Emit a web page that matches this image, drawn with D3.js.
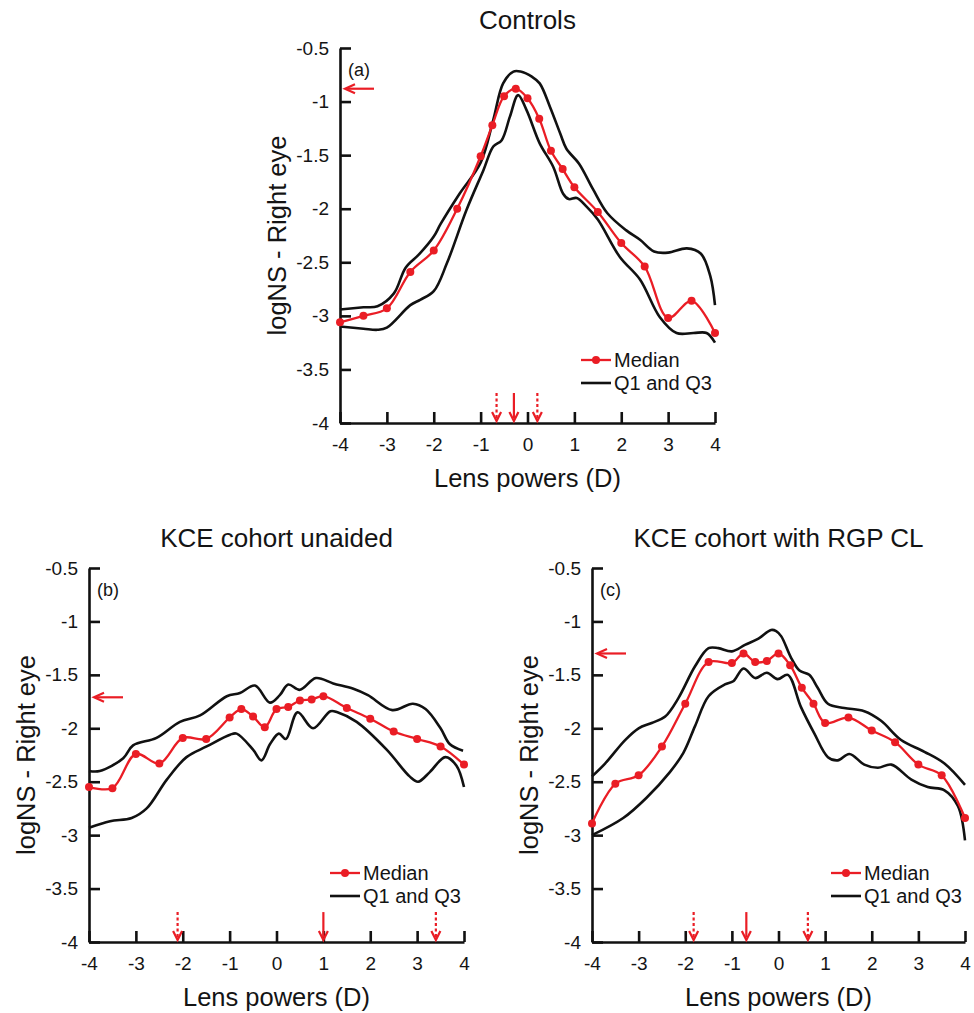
<!DOCTYPE html>
<html><head><meta charset="utf-8">
<script src="https://cdn.jsdelivr.net/npm/d3@7"></script>
<style>
body{margin:0;background:#fff}
svg{display:block}
text{font-family:"Liberation Sans",Arial,sans-serif;fill:#141414}
</style>
</head><body>
<svg id="chart" width="974" height="1013"></svg>
<script>
// ---------- data ----------
const lensPowers = [-4,-3.5,-3,-2.5,-2,-1.5,-1,-0.75,-0.5,-0.25,0,0.25,0.5,0.75,1,1.5,2,2.5,3,3.5,4];
const xTicks = [-4,-3,-2,-1,0,1,2,3,4];
const yTicks = [-4,-3.5,-3,-2.5,-2,-1.5,-1,-0.5];

// (a) Controls
const controlsMedian = [-3.06,-3.0,-2.93,-2.59,-2.39,-2.0,-1.51,-1.22,-0.95,-0.88,-0.97,-1.16,-1.46,-1.63,-1.80,-2.03,-2.32,-2.54,-3.02,-2.86,-3.16];
const controlsQ3x = [-4,-3.5,-3.2,-2.85,-2.6,-2.3,-2.0,-1.85,-1.45,-1.0,-0.73,-0.52,-0.3,-0.15,0.1,0.26,0.48,0.7,0.83,1.1,1.4,1.7,2.1,2.4,2.7,3.0,3.4,3.7,3.9,4.0];
const controlsQ3  = [-2.94,-2.92,-2.91,-2.79,-2.55,-2.42,-2.26,-2.14,-1.86,-1.57,-1.17,-0.83,-0.72,-0.72,-0.77,-0.83,-1.05,-1.30,-1.44,-1.58,-1.82,-2.04,-2.20,-2.29,-2.40,-2.41,-2.37,-2.42,-2.63,-2.90];
const controlsQ1x = [-4,-3.5,-3.2,-3.0,-2.5,-2.29,-2.0,-1.72,-1.3,-0.94,-0.73,-0.55,-0.375,-0.2,-0.02,0.26,0.55,0.76,0.88,1.05,1.26,1.5,1.97,2.4,2.82,3.18,3.54,3.82,4.0];
const controlsQ1  = [-3.10,-3.12,-3.13,-3.11,-2.90,-2.85,-2.77,-2.51,-2.01,-1.64,-1.42,-1.36,-1.14,-0.94,-1.08,-1.39,-1.61,-1.86,-1.91,-1.90,-1.98,-2.10,-2.45,-2.66,-3.01,-3.16,-3.16,-3.16,-3.25];
const controlsPeak = -0.88;
const controlsMarks = [-0.66,-0.29,0.21];   // dashed, solid, dashed

// (b) KCE cohort unaided
const unaidedMedian = [-2.55,-2.56,-2.24,-2.33,-2.09,-2.10,-1.90,-1.82,-1.89,-1.99,-1.82,-1.80,-1.74,-1.73,-1.70,-1.81,-1.91,-2.03,-2.10,-2.17,-2.34];
const unaidedQ3x = [-4,-3.77,-3.27,-3.06,-2.56,-2.06,-1.63,-1.06,-0.78,-0.46,-0.14,0.07,0.25,0.5,0.84,1.21,1.64,1.95,2.47,2.91,3.18,3.5,3.7,3.98];
const unaidedQ3  = [-2.40,-2.40,-2.28,-2.16,-2.09,-1.94,-1.88,-1.70,-1.67,-1.60,-1.76,-1.69,-1.59,-1.64,-1.53,-1.58,-1.63,-1.69,-1.83,-1.77,-1.82,-2.0,-2.15,-2.21];
const unaidedQ1x = [-4,-3.55,-3.09,-2.77,-2.34,-1.92,-1.49,-0.99,-0.85,-0.5,-0.32,-0.14,0.05,0.2,0.45,0.78,1.15,1.3,1.71,2.35,2.84,3.02,3.27,3.6,3.84,4.0];
const unaidedQ1  = [-2.93,-2.87,-2.84,-2.75,-2.48,-2.27,-2.17,-2.06,-2.05,-2.20,-2.30,-2.15,-2.05,-2.10,-1.85,-2.00,-1.84,-1.85,-1.94,-2.20,-2.45,-2.50,-2.41,-2.27,-2.35,-2.55];
const unaidedPeak = -1.71;
const unaidedMarks = [-2.11,1.0,3.40];

// (c) KCE cohort with RGP CL
const rgpMedian = [-2.89,-2.52,-2.44,-2.17,-1.77,-1.38,-1.39,-1.30,-1.38,-1.37,-1.30,-1.41,-1.62,-1.77,-1.95,-1.90,-2.02,-2.13,-2.34,-2.44,-2.84];
const rgpQ3x = [-4,-3.72,-3.29,-3.0,-2.72,-2.43,-2.15,-1.79,-1.50,-1.29,-1.0,-0.72,-0.43,-0.16,-0.05,0.06,0.27,0.45,0.66,0.84,1.06,1.41,1.84,2.2,2.63,3.13,3.56,4.0];
const rgpQ3  = [-2.45,-2.33,-2.11,-2.0,-1.95,-1.89,-1.72,-1.42,-1.25,-1.25,-1.28,-1.22,-1.16,-1.08,-1.09,-1.14,-1.34,-1.46,-1.50,-1.62,-1.77,-1.81,-1.84,-1.93,-2.11,-2.22,-2.33,-2.53];
const rgpQ1x = [-4,-3.33,-2.83,-2.33,-2.04,-1.79,-1.50,-1.15,-0.97,-0.75,-0.5,-0.25,-0.02,0.2,0.48,0.77,1.06,1.27,1.52,1.84,2.13,2.42,2.85,3.2,3.56,3.85,4.0];
const rgpQ1  = [-3.0,-2.84,-2.65,-2.41,-2.23,-1.98,-1.70,-1.59,-1.56,-1.44,-1.53,-1.48,-1.54,-1.50,-1.80,-2.05,-2.27,-2.30,-2.24,-2.34,-2.37,-2.34,-2.48,-2.55,-2.58,-2.73,-3.05];
const rgpPeak = -1.30;
const rgpMarks = [-1.82,-0.69,0.63];

const titles = ["Controls","KCE cohort unaided","KCE cohort with RGP CL"];
const panelTags = ["(a)","(b)","(c)"];
const xLabel = "Lens powers (D)";
const yLabel = "logNS - Right eye";
const legendLabels = ["Median","Q1 and Q3"];

// ---------- drawing ----------
const RED = "#ea1d25";
const svg = d3.select("#chart");

const panels = [
  {left:340,right:715,top:48,bottom:423,title:titles[0],tag:panelTags[0],median:controlsMedian,
   q3x:controlsQ3x,q3:controlsQ3,q1x:controlsQ1x,q1:controlsQ1,peak:controlsPeak,marks:controlsMarks,legY:360,titleY:29},
  {left:89,right:464,top:568,bottom:942,title:titles[1],tag:panelTags[1],median:unaidedMedian,
   q3x:unaidedQ3x,q3:unaidedQ3,q1x:unaidedQ1x,q1:unaidedQ1,peak:unaidedPeak,marks:unaidedMarks,legY:873,titleY:547},
  {left:592,right:965,top:568,bottom:942,title:titles[2],tag:panelTags[2],median:rgpMedian,
   q3x:rgpQ3x,q3:rgpQ3,q1x:rgpQ1x,q1:rgpQ1,peak:rgpPeak,marks:rgpMarks,legY:873,titleY:547}
];

function drawPanel(p){
  const x = d3.scaleLinear().domain([-4,4]).range([p.left,p.right]);
  const y = d3.scaleLinear().domain([-4,-0.5]).range([p.bottom,p.top]);
  const g = svg.append("g");

  // axes
  const ya = g.append("g").attr("transform",`translate(${p.left},0)`)
    .call(d3.axisLeft(y).tickValues(yTicks).tickSize(-11).tickSizeOuter(0).tickPadding(11).tickFormat(d=>String(d)));
  const xa = g.append("g").attr("transform",`translate(0,${p.bottom})`)
    .call(d3.axisBottom(x).tickValues(xTicks).tickSize(-11).tickSizeOuter(0).tickPadding(15).tickFormat(d=>String(d)));
  [ya,xa].forEach(a=>{
    a.select(".domain").attr("stroke","#111").attr("stroke-width",2.6);
    a.selectAll(".tick line").attr("stroke","#111").attr("stroke-width",2.6);
    a.selectAll(".tick text").attr("font-size",19).attr("font-family","Liberation Sans, Arial, sans-serif").attr("fill","#141414");
  });

  const line = d3.line().x(d=>x(d[0])).y(d=>y(d[1])).curve(d3.curveCatmullRom.alpha(0.5));

  // quartile lines
  [[p.q3x,p.q3],[p.q1x,p.q1]].forEach(([xs,ys])=>{
    g.append("path").attr("d",line(xs.map((v,i)=>[v,ys[i]])))
      .attr("fill","none").attr("stroke","#111").attr("stroke-width",2.6);
  });
  // median
  const med = lensPowers.map((v,i)=>[v,p.median[i]]);
  g.append("path").attr("d",line(med)).attr("fill","none").attr("stroke",RED).attr("stroke-width",2.3);
  g.selectAll("circle.m").data(med).join("circle").attr("class","m")
    .attr("cx",d=>x(d[0])).attr("cy",d=>y(d[1])).attr("r",4).attr("fill",RED);

  // left arrow at peak median level
  const ay = y(p.peak);
  g.append("line").attr("x1",p.left+34).attr("x2",p.left+7).attr("y1",ay).attr("y2",ay)
    .attr("stroke",RED).attr("stroke-width",2.2);
  g.append("path").attr("d",`M${p.left+15},${ay-4.5}L${p.left+5},${ay}L${p.left+15},${ay+4.5}`)
    .attr("fill","none").attr("stroke",RED).attr("stroke-width",2.2);

  // down arrows
  p.marks.forEach((m,i)=>{
    const ax = x(m), y0 = y(-3.72), y1 = y(-4)-2;
    g.append("line").attr("x1",ax).attr("x2",ax).attr("y1",y0).attr("y2",y1-3)
      .attr("stroke",RED).attr("stroke-width",2.2).attr("stroke-dasharray",i===1?null:"3,2.5");
    g.append("path").attr("d",`M${ax-4.5},${y1-9}L${ax},${y1}L${ax+4.5},${y1-9}`)
      .attr("fill","none").attr("stroke",RED).attr("stroke-width",2.2);
  });

  // legend
  const lx = p.right-134;
  g.append("line").attr("x1",lx).attr("x2",lx+30).attr("y1",p.legY).attr("y2",p.legY).attr("stroke",RED).attr("stroke-width",2.3);
  g.append("circle").attr("cx",lx+15).attr("cy",p.legY).attr("r",4).attr("fill",RED);
  g.append("text").attr("x",lx+33).attr("y",p.legY+7).attr("font-size",20).text(legendLabels[0]);
  g.append("line").attr("x1",lx).attr("x2",lx+30).attr("y1",p.legY+23).attr("y2",p.legY+23).attr("stroke","#111").attr("stroke-width",2.6);
  g.append("text").attr("x",lx+33).attr("y",p.legY+30).attr("font-size",20).text(legendLabels[1]);

  // texts
  g.append("text").attr("x",p.left+8).attr("y",p.top+28).attr("font-size",18).text(p.tag);
  g.append("text").attr("x",(p.left+p.right)/2).attr("y",p.titleY).attr("text-anchor","middle").attr("font-size",26).text(p.title);
  g.append("text").attr("x",(p.left+p.right)/2).attr("y",p.bottom+64).attr("text-anchor","middle").attr("font-size",25.5).text(xLabel);
  g.append("text").attr("transform",`translate(${p.left-54},${(p.top+p.bottom)/2}) rotate(-90)`)
    .attr("text-anchor","middle").attr("font-size",25.5).text(yLabel);
}
panels.forEach(drawPanel);
</script>
</body></html>
